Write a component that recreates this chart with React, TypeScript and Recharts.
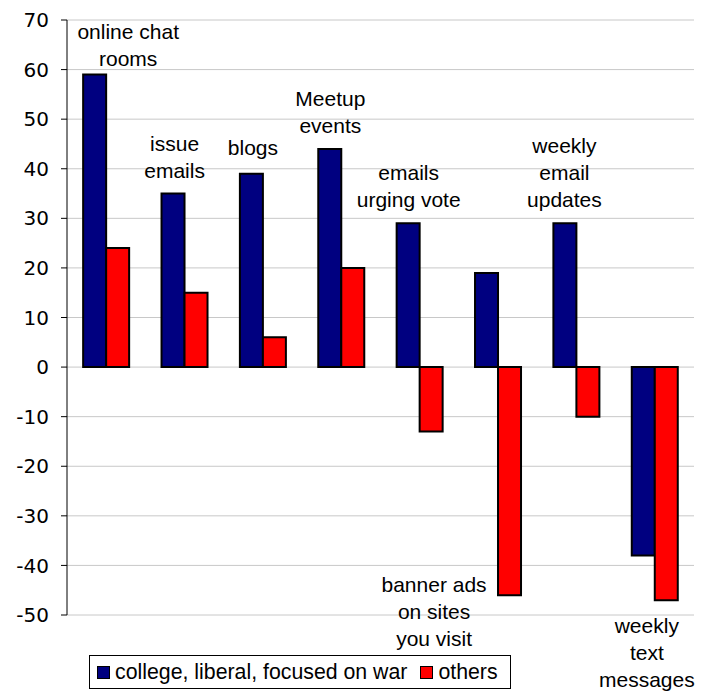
import React from "react";
import { BarChart, Bar, XAxis, YAxis, CartesianGrid, ReferenceDot, Legend } from "recharts";

const categories = [
  "online chat rooms",
  "issue emails",
  "blogs",
  "Meetup events",
  "emails urging vote",
  "banner ads on sites you visit",
  "weekly email updates",
  "weekly text messages",
];
const collegeLiberal = [59, 35, 39, 44, 29, 19, 29, -38];
const others = [24, 15, 6, 20, -13, -46, -10, -47];
const yTicks = [-50, -40, -30, -20, -10, 0, 10, 20, 30, 40, 50, 60, 70];
const labelLines = [
  ["online chat", "rooms"],
  ["issue", "emails"],
  ["blogs"],
  ["Meetup", "events"],
  ["emails", "urging vote"],
  ["banner ads", "on sites", "you visit"],
  ["weekly", "email", "updates"],
  ["weekly", "text", "messages"],
];

// hand placement of the category captions, in px, relative to the tallest bar of each group
const labelNudge = [
  { dx: 22, dy: -9 },
  { dx: -10, dy: -16 },
  { dx: -10, dy: -19 },
  { dx: -11, dy: -16 },
  { dx: -11, dy: -16 },
  { dx: -64, dy: -3 },
  { dx: -12, dy: -16 },
  { dx: -8, dy: 33 },
];

const BLUE = "#000080";
const RED = "#FF0000";
const LABEL_FONT = "'Liberation Sans', Arial, sans-serif";
const LINE_H = 27;

const data = categories.map((name, i) => ({
  name,
  college: collegeLiberal[i],
  others: others[i],
}));

const anchorValue = (i: number) => {
  const hi = Math.max(collegeLiberal[i], others[i]);
  const lo = Math.min(collegeLiberal[i], others[i]);
  return Math.abs(lo) > Math.abs(hi) ? lo : hi;
};

const makeCaption = (i: number) => (props: any) => {
  const { cx, cy } = props;
  const lines = labelLines[i];
  const down = anchorValue(i) < 0;
  const { dx, dy } = labelNudge[i];
  return (
    <text
      textAnchor="middle"
      fontFamily={LABEL_FONT}
      fontSize={21}
      fill="#000"
    >
      {lines.map((ln, k) => {
        const y = down
          ? cy + dy + k * LINE_H
          : cy + dy - (lines.length - 1 - k) * LINE_H;
        return (
          <tspan key={k} x={cx + dx} y={y}>
            {ln}
          </tspan>
        );
      })}
    </text>
  );
};

const LegendBox = () => (
  <div
    style={{
      border: "1px solid #000",
      display: "flex",
      alignItems: "center",
      height: 32,
      padding: "0 12px 0 7px",
      fontFamily: LABEL_FONT,
      fontSize: 21.3,
      color: "#000",
      background: "#fff",
      whiteSpace: "nowrap",
    }}
  >
    <span style={{ width: 11, height: 11, background: BLUE, border: "1.5px solid #000", marginRight: 5 }} />
    <span style={{ marginRight: 13 }}>college, liberal, focused on war</span>
    <span style={{ width: 11, height: 11, background: RED, border: "1.5px solid #000", marginRight: 5 }} />
    <span>others</span>
  </div>
);

export default function App() {
  return (
    <div style={{ position: "absolute", left: 0, top: 0, width: 708, height: 692, background: "#fff" }}>
      <BarChart
        width={708}
        height={692}
        data={data}
        margin={{ top: 20, right: 14, left: 7, bottom: 43 }}
        barGap={0}
        barCategoryGap="20.6%"
      >
        <CartesianGrid vertical={false} stroke="#c8c8c8" strokeWidth={1} />
        <XAxis dataKey="name" hide />
        <YAxis
          width={60}
          domain={[-50, 70]}
          ticks={yTicks}
          interval={0}
          tickSize={6}
          tickMargin={12}
          axisLine={{ stroke: "#000" }}
          tickLine={{ stroke: "#000" }}
          tick={{ fill: "#000", fontSize: 20, fontFamily: "'DejaVu Sans', Verdana, sans-serif" }}
        />
        <Bar dataKey="college" fill={BLUE} stroke="#000" strokeWidth={2} isAnimationActive={false} />
        <Bar dataKey="others" fill={RED} stroke="#000" strokeWidth={2} isAnimationActive={false} />
        {categories.map((c, i) => (
          <ReferenceDot
            key={c}
            x={c}
            y={anchorValue(i)}
            r={0}
            ifOverflow="visible"
            shape={makeCaption(i)}
          />
        ))}
        <Legend
          verticalAlign="bottom"
          content={() => <LegendBox />}
          wrapperStyle={{ left: 89, top: 655, bottom: "auto", width: "auto" }}
        />
      </BarChart>
    </div>
  );
}
